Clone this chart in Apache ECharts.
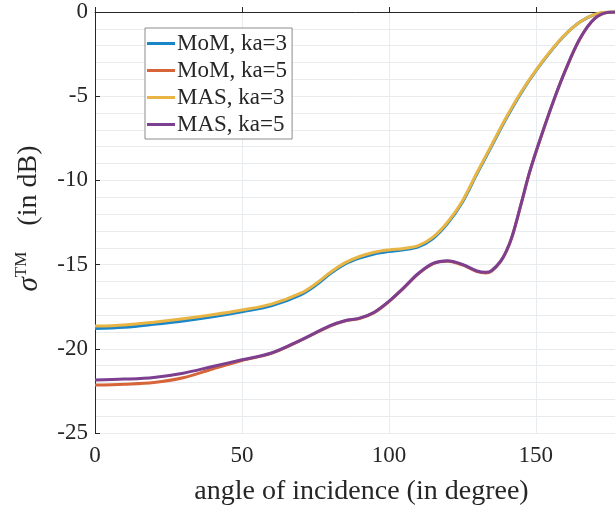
<!DOCTYPE html>
<html lang="en">
<head>
    <meta charset="UTF-8">
    <title>sigma TM vs angle of incidence</title>
    <script src="https://cdn.jsdelivr.net/npm/echarts@6/dist/echarts.min.js"></script>
    <style>
        html, body { margin: 0; padding: 0; background: #fff; }
        #chart { width: 615px; height: 508px; }
    </style>
</head>
<body>
<div id="chart"></div>
<script type="text/javascript">
    // angles (degree) for the ka=3 curves
    var angles3 = [0, 10, 20, 30, 40, 50, 60, 70, 75, 80, 85, 90, 95, 100, 105, 110, 115, 120, 125, 130, 135, 140, 145, 150, 155, 160, 165, 170, 175, 180];
    var momKa3 = [-18.8, -18.72, -18.55, -18.35, -18.1, -17.8, -17.45, -16.8, -16.25, -15.55, -14.98, -14.62, -14.37, -14.22, -14.12, -13.95, -13.45, -12.55, -11.3, -9.6, -7.95, -6.3, -4.8, -3.5, -2.35, -1.35, -0.6, -0.15, 0, 0];
    var masKa3 = [-18.65, -18.58, -18.42, -18.22, -17.98, -17.7, -17.35, -16.7, -16.15, -15.47, -14.9, -14.52, -14.27, -14.13, -14.04, -13.87, -13.37, -12.47, -11.22, -9.53, -7.88, -6.24, -4.75, -3.46, -2.32, -1.33, -0.59, -0.14, 0, 0];

    // angles (degree) for the ka=5 curves
    var angles5 = [0, 10, 20, 30, 40, 50, 60, 70, 80, 85, 90, 95, 100, 105, 110, 115, 120, 125, 130, 133, 135, 138, 140, 142, 145, 148, 152, 156, 160, 165, 170, 175, 180];
    var momKa5 = [-22.15, -22.1, -22.0, -21.72, -21.2, -20.7, -20.27, -19.5, -18.65, -18.35, -18.2, -17.85, -17.2, -16.4, -15.55, -14.95, -14.8, -15.02, -15.42, -15.5, -15.38, -14.82, -14.2, -13.3, -11.4, -9.45, -7.3, -5.3, -3.5, -1.6, -0.4, -0.02, 0];
    var masKa5 = [-21.85, -21.8, -21.7, -21.45, -21.05, -20.65, -20.25, -19.48, -18.63, -18.33, -18.18, -17.83, -17.18, -16.38, -15.53, -14.93, -14.77, -14.99, -15.38, -15.46, -15.35, -14.8, -14.18, -13.28, -11.38, -9.43, -7.28, -5.28, -3.48, -1.58, -0.39, -0.02, 0];

    var xLabels = [0, 50, 100, 150];

    function pairs(xs, ys) {
        var out = [];
        for (var i = 0; i < xs.length; i++) {
            out.push([xs[i], ys[i]]);
        }
        return out;
    }

    var serif = 'Liberation Serif';
    var gridColor = '#e9ecef';
    var ink = '#262626';

    function lineSeries(name, color, xs, ys) {
        return {
            name: name,
            type: 'line',
            data: pairs(xs, ys),
            smooth: 0.35,
            showSymbol: false,
            symbol: 'none',
            lineStyle: { color: color, width: 3 },
            itemStyle: { color: color },
            animation: false
        };
    }

    var chart = echarts.init(document.getElementById('chart'));
    chart.setOption({
        backgroundColor: '#fff',
        grid: {
            left: 95,
            right: -9,
            top: 12,
            bottom: 75,
            containLabel: false,
            outerBoundsMode: 'none'
        },
        legend: {
            orient: 'vertical',
            left: 145,
            top: 28,
            icon: 'rect',
            itemWidth: 28,
            itemHeight: 3,
            itemGap: 4,
            padding: [4, 5, 3, 2],
            backgroundColor: '#fff',
            borderColor: '#8c8c8c',
            borderWidth: 1,
            textStyle: {
                fontFamily: serif,
                fontSize: 23,
                lineHeight: 23,
                color: ink,
                padding: [0, 0, 0, -3]
            },
            data: ['MoM, ka=3', 'MoM, ka=5', 'MAS, ka=3', 'MAS, ka=5']
        },
        xAxis: {
            type: 'value',
            min: 0,
            max: 180,
            interval: 10,
            name: 'angle of incidence (in degree)',
            nameLocation: 'middle',
            nameGap: 45,
            nameTextStyle: { fontFamily: serif, fontSize: 28, color: ink, padding: [0, 0, 0, 4] },
            axisLine: { show: true, lineStyle: { color: ink, width: 1 } },
            axisTick: { show: true, inside: true, length: 5, customValues: xLabels, lineStyle: { color: ink } },
            axisLabel: { customValues: xLabels, fontFamily: serif, fontSize: 23, color: ink, margin: 11 },
            splitLine: { show: true, lineStyle: { color: gridColor, width: 1 } }
        },
        yAxis: {
            type: 'value',
            min: -25,
            max: 0,
            interval: 5,
            name: '{s|σ}{sup|TM}{n|(in dB)}',
            nameLocation: 'middle',
            nameGap: 50,
            nameTextStyle: {
                color: ink,
                padding: [0, 0, 0, 8],
                rich: {
                    s: { fontFamily: serif, fontStyle: 'italic', fontSize: 29, color: ink },
                    sup: { fontFamily: serif, fontSize: 17, color: ink, verticalAlign: 'top', padding: [0, 0, 15, 0] },
                    n: { fontFamily: serif, fontSize: 28, color: ink, padding: [0, 0, 0, 26] }
                }
            },
            axisLine: { show: true, onZero: false, lineStyle: { color: ink, width: 1 } },
            axisTick: { show: true, inside: true, length: 5, lineStyle: { color: ink } },
            axisLabel: { fontFamily: serif, fontSize: 23, color: ink, margin: 7 },
            splitLine: { show: true, lineStyle: { color: gridColor, width: 1 } },
            minorTick: { show: false, splitNumber: 5 },
            minorSplitLine: { show: true, lineStyle: { color: gridColor, width: 1 } }
        },
        series: [
            lineSeries('MoM, ka=3', '#1A86C8', angles3, momKa3),
            lineSeries('MoM, ka=5', '#D6653A', angles5, momKa5),
            lineSeries('MAS, ka=3', '#E8B545', angles3, masKa3),
            lineSeries('MAS, ka=5', '#7D3F8F', angles5, masKa5)
        ]
    });
</script>
</body>
</html>
